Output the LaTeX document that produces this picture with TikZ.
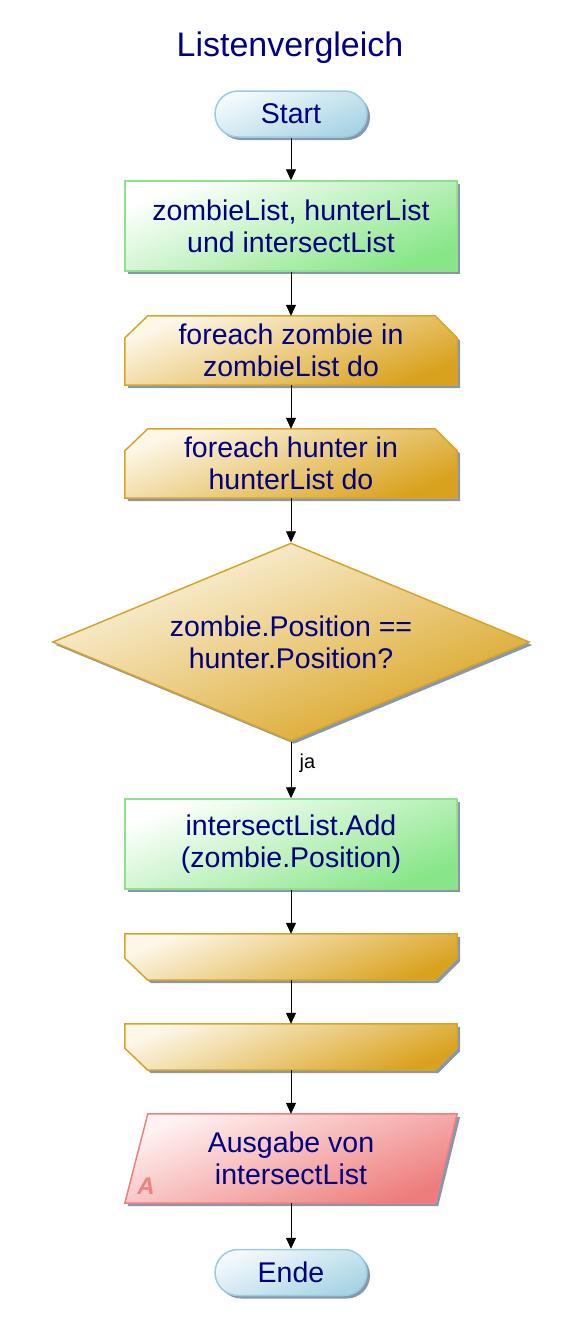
\documentclass[tikz,border=0pt]{standalone}
\usepackage{fontspec}
\setmainfont{Liberation Sans}
\usetikzlibrary{arrows.meta,shapes.geometric,backgrounds,calc,shadows}
\definecolor{txt}{HTML}{000080}
\definecolor{blueA}{HTML}{F4FAFD}
\definecolor{blueB}{HTML}{A8D4E4}
\definecolor{blueD}{HTML}{9CCADE}
\definecolor{greenA}{HTML}{FFFFFF}
\definecolor{greenB}{HTML}{88E688}
\definecolor{greenD}{HTML}{90E090}
\definecolor{goldA}{HTML}{FDF7E8}
\definecolor{goldB}{HTML}{D9A21E}
\definecolor{goldD}{HTML}{D8A428}
\definecolor{pinkA}{HTML}{FFF2F2}
\definecolor{pinkB}{HTML}{EE7C7C}
\definecolor{pinkD}{HTML}{F08080}
\definecolor{shadowc}{HTML}{8797AC}
\tikzset{
  shd/.style={drop shadow={shadow xshift=3pt,shadow yshift=-3pt,fill=shadowc,opacity=1}},
  txtnode/.style={inner sep=0pt,align=center,text=txt,font=\fontsize{28.5}{32}\selectfont},
  termstyle/.style={shd,top color=blueA,bottom color=blueB,shading angle=22,draw=blueD,line width=1.5pt},
  procstyle/.style={shd,top color=greenA,bottom color=greenB,shading angle=22,draw=greenD,line width=1.5pt},
  loopstyle/.style={shd,top color=goldA,bottom color=goldB,shading angle=22,draw=goldD,line width=1.5pt},
  outstyle/.style={shd,top color=pinkA,bottom color=pinkB,shading angle=22,draw=pinkD,line width=1.5pt},
  conn/.style={draw=black,line width=0.8pt,-{Triangle[width=10pt,length=11pt]}}
}
\begin{document}
\begin{tikzpicture}[x=1pt,y=-1pt]
\useasboundingbox (0,0) rectangle (580,1339);
\node[text=txt,font=\fontsize{34}{38}\selectfont] (title) at (290,48) {Listenvergleich};

\node[txtnode,termstyle,rounded corners=23pt,minimum width=152pt,minimum height=46pt] (start) at (291,114) {Start};
\node[txtnode,procstyle,minimum width=332pt,minimum height=90pt] (init) at (291,226) {zombieList, hunterList\\und intersectList};
\node[txtnode,minimum width=332pt,minimum height=69pt] (loopz) at (291,350.5) {foreach zombie in\\zombieList do};
\node[txtnode,minimum width=332pt,minimum height=69pt] (looph) at (291,463.5) {foreach hunter in\\hunterList do};
\node[txtnode,diamond,aspect=2.4,loopstyle,minimum width=477pt,minimum height=198pt] (cond) at (291,642) {zombie.Position ==\\hunter.Position?};
\node[txtnode,procstyle,minimum width=332pt,minimum height=90pt] (add) at (291,844) {intersectList.Add\\(zombie.Position)};
\node[txtnode,minimum width=332pt,minimum height=46pt] (endh) at (291,957) {};
\node[txtnode,minimum width=332pt,minimum height=46pt] (endz) at (291,1047) {};
\node[txtnode,minimum width=332pt,minimum height=89pt] (out) at (291,1158.5) {Ausgabe von\\intersectList};
\node[txtnode,termstyle,rounded corners=23pt,minimum width=152pt,minimum height=46pt] (ende) at (291,1272.5) {Ende};

\begin{scope}[on background layer]
\path[loopstyle] ($(loopz.north west)+(0,22)$) -- ($(loopz.north west)+(23,0)$) -- ($(loopz.north east)+(-22,0)$) -- ($(loopz.north east)+(0,22)$) -- (loopz.south east) -- (loopz.south west) -- cycle;
\path[loopstyle] ($(looph.north west)+(0,22)$) -- ($(looph.north west)+(23,0)$) -- ($(looph.north east)+(-22,0)$) -- ($(looph.north east)+(0,22)$) -- (looph.south east) -- (looph.south west) -- cycle;
\path[loopstyle] (endh.north west) -- (endh.north east) -- ($(endh.south east)+(0,-22)$) -- ($(endh.south east)+(-22,0)$) -- ($(endh.south west)+(23,0)$) -- ($(endh.south west)+(0,-22)$) -- cycle;
\path[loopstyle] (endz.north west) -- (endz.north east) -- ($(endz.south east)+(0,-22)$) -- ($(endz.south east)+(-22,0)$) -- ($(endz.south west)+(23,0)$) -- ($(endz.south west)+(0,-22)$) -- cycle;
\path[outstyle] ($(out.north west)+(23,0)$) -- (out.north east) -- ($(out.south east)+(-22,0)$) -- (out.south west) -- cycle;
\end{scope}
\node[text=pinkD,font=\fontsize{24}{24}\selectfont\bfseries\itshape] (alabel) at (146,1186) {A};

\draw[conn] (start) -- (init);
\draw[conn] (init) -- (loopz);
\draw[conn] (loopz) -- (looph);
\draw[conn] (looph) -- (cond);
\draw[conn] (cond) -- node[pos=0.38,right=5pt,text=black,font=\fontsize{20}{20}\selectfont] (ja) {ja} (add);
\draw[conn] (add) -- (endh);
\draw[conn] (endh) -- (endz);
\draw[conn] (endz) -- (out);
\draw[conn] (out) -- (ende);
\end{tikzpicture}
\end{document}
